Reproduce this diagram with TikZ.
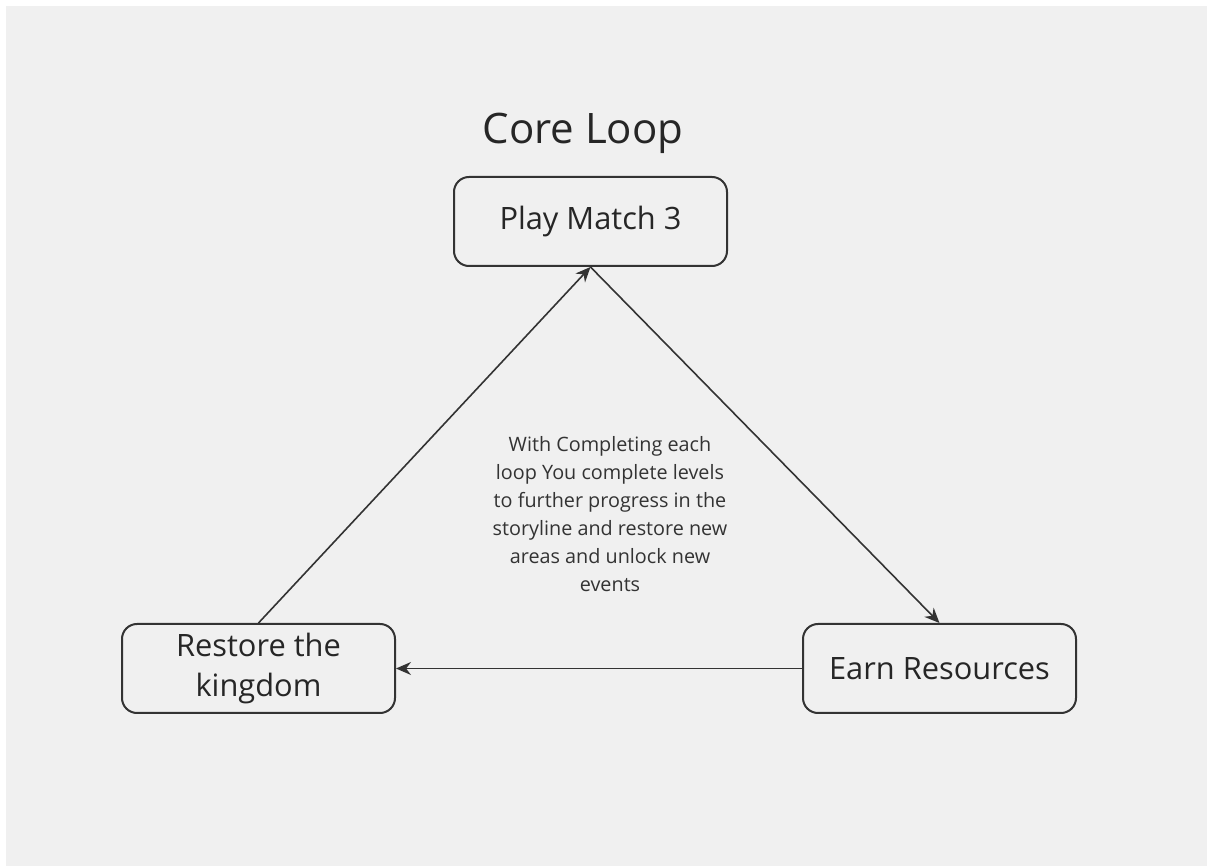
\documentclass[tikz,border=0pt]{standalone}
\usepackage{fontspec}
\setmainfont{Open Sans}
\usetikzlibrary{arrows.meta}
\begin{document}
\begin{tikzpicture}[
x=0.5pt,y=-0.5pt,
stage/.style={%
draw=black!80,
line width=1pt,
rounded corners=7.5pt,
minimum width=136.5pt,
minimum height=44.5pt,
inner sep=0pt,
text=black!85,
font=\fontsize{15.4}{20}\selectfont,
align=center
},
flow/.style={%
draw=black!80,
line width=0.8pt,
-{Stealth[length=7.5pt,width=6.5pt]}
}
]
%% Canvas
\useasboundingbox (0,0) rectangle (1207,866);
\fill[white] (0,0) rectangle (1207,866);
\fill[black!6] (6,6) rectangle (1207,866);
%% Title
\node[text=black!85,font=\fontsize{21}{25}\selectfont]at(583,133)(title){Core Loop};
%% Stages
\node[stage]at(590.5,221.5)(play){Play Match 3};
\node[stage]at(939.5,668.5)(earn){Earn Resources};
\node[stage]at(258.5,668.5)(restore){Restore the\\kingdom};
%% Loop
\draw[flow](restore.north)--(play.south);
\draw[flow](play.south)--(earn.north);
\draw[flow](earn.west)--(restore.east);
%% Note
\node[align=center,text=black!80,font=\fontsize{9.9}{14}\selectfont]at(610,514)(note){With Completing each\\loop You complete levels\\to further progress in the\\storyline and restore new\\areas and unlock new\\events};
\end{tikzpicture}
\end{document}
